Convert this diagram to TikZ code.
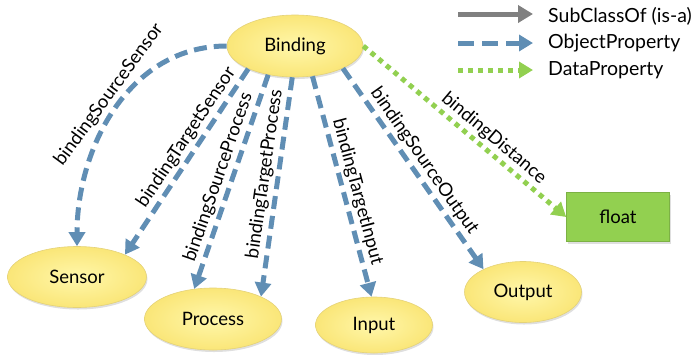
\documentclass[tikz,border=0pt]{standalone}
\usepackage{fontspec}
\setmainfont{Lato}
\usetikzlibrary{shapes.geometric,arrows.meta,shadows}
\definecolor{objblue}{RGB}{96,142,180}
\definecolor{datagreen}{RGB}{146,208,80}
\definecolor{subgrey}{RGB}{128,128,128}
\definecolor{elltop}{RGB}{255,247,170}
\definecolor{ellbot}{RGB}{250,230,120}
\definecolor{ellline}{RGB}{228,210,120}
\tikzset{
  cls/.style={ellipse, inner sep=0pt, draw=ellline, line width=0.6pt,
    inner color=elltop, outer color=ellbot,
    drop shadow={shadow xshift=1pt, shadow yshift=-2pt, opacity=0.25},
    font=\fontsize{18.5}{22}\selectfont},
  dtype/.style={rectangle, inner sep=0pt, draw=datagreen!85!black, line width=0.6pt,
    fill=datagreen, minimum width=103pt, minimum height=49pt,
    drop shadow={shadow xshift=1pt, shadow yshift=-2pt, opacity=0.25},
    font=\fontsize{18.5}{22}\selectfont},
  objprop/.style={draw=objblue, line width=5pt, dash pattern=on 13pt off 7pt,
    -{Triangle[length=14pt,width=16pt]}},
  dataprop/.style={draw=datagreen, line width=5pt, dash pattern=on 5pt off 5pt,
    -{Triangle[length=14pt,width=16pt]}},
  subprop/.style={draw=subgrey, line width=5pt,
    -{Triangle[length=15pt,width=17pt]}},
  lbl/.style={sloped, above, inner sep=2.5pt, font=\fontsize{18.5}{22}\selectfont},
  legtext/.style={anchor=west, inner sep=0pt, font=\fontsize{19.5}{23}\selectfont}
}
\begin{document}
\begin{tikzpicture}[x=1pt,y=-1pt]
\useasboundingbox (0,0) rectangle (692,354);

\node[cls, minimum width=136pt, minimum height=62pt] (Binding) at (295,46) {Binding};
\node[cls, minimum width=139pt, minimum height=61pt] (Sensor) at (77,277) {Sensor};
\node[cls, minimum width=137pt, minimum height=62pt] (Process) at (213,319) {Process};
\node[cls, minimum width=117pt, minimum height=56pt] (Input) at (374,325) {Input};
\node[cls, minimum width=117pt, minimum height=61pt] (Output) at (523,292) {Output};
\node[dtype] (float) at (618,217) {float};

\draw[objprop] (Binding.west) to[out=180,in=90]
  node[lbl, pos=0.47] {bindingSourceSensor} (Sensor.north);
\draw[objprop] (Binding.206) -- node[lbl, pos=0.41] {bindingTargetSensor} (Sensor.25);
\draw[objprop] (Binding.227) -- node[lbl, pos=0.5] {bindingSourceProcess} (Process.122);
\draw[objprop] (Binding.265) -- node[lbl, pos=0.45] {bindingTargetProcess} (Process.25);
\draw[objprop] (Binding.300) -- node[lbl, pos=0.54] {bindingTargetInput} (Input.95);
\draw[objprop] (Binding.335) -- node[lbl, pos=0.5] {bindingSourceOutput} (Output.150);
\draw[dataprop] (Binding.east) -- node[lbl, pos=0.6] {bindingDistance} (float.west);

% legend
\coordinate (l1a) at (458,14); \coordinate (l1b) at (533,14);
\coordinate (l2a) at (458,43); \coordinate (l2b) at (533,43);
\coordinate (l3a) at (458,70); \coordinate (l3b) at (533,70);
\draw[subprop] (l1a) -- (l1b);
\draw[objprop, dash pattern=on 16pt off 8pt] (l2a) -- (l2b);
\draw[dataprop] (l3a) -- (l3b);
\node[legtext] (t1) at (548,16) {SubClassOf (is-a)};
\node[legtext] (t2) at (548,43) {ObjectProperty};
\node[legtext] (t3) at (548,70) {DataProperty};
\end{tikzpicture}
\end{document}
